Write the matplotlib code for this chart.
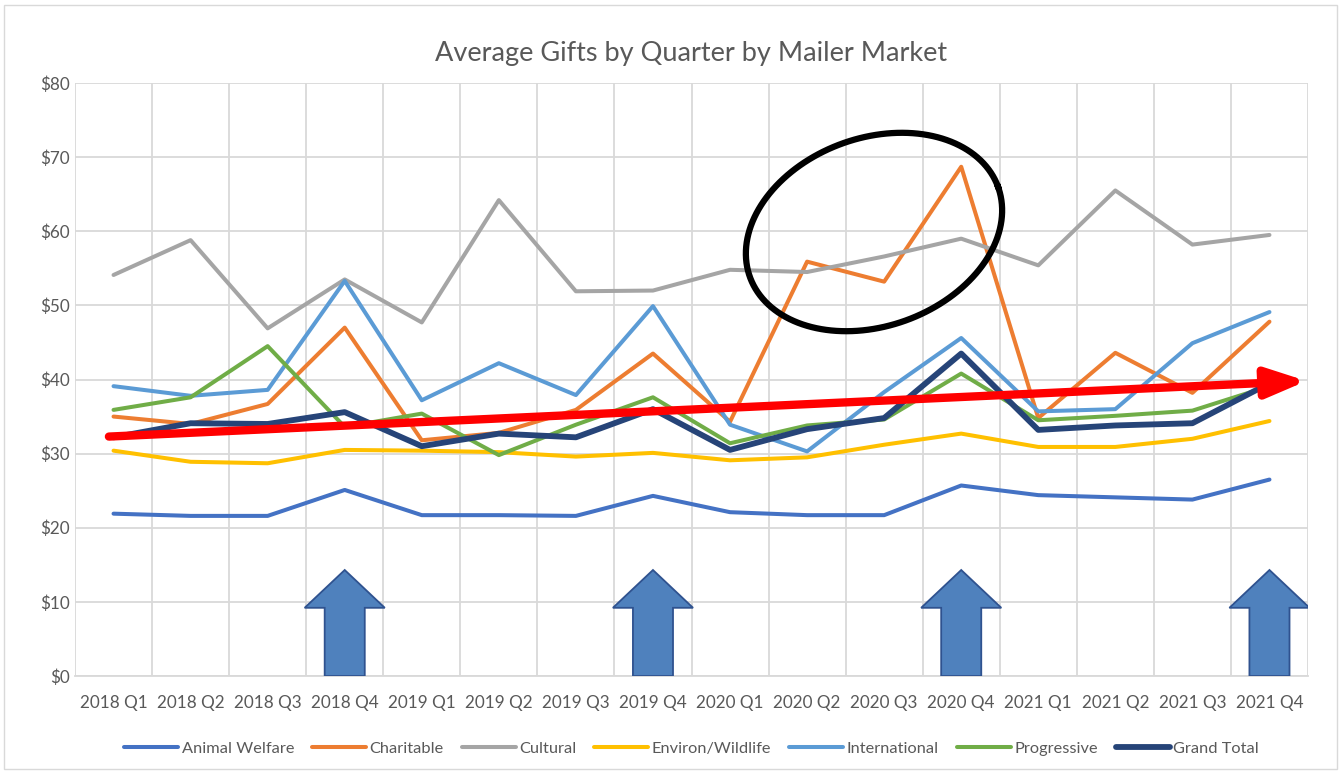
import matplotlib
matplotlib.use("Agg")
import matplotlib.pyplot as plt
from matplotlib.patches import Polygon, Rectangle
from matplotlib.ticker import FixedLocator
import numpy as np

plt.rcParams['font.family'] = ['Lato', 'DejaVu Sans']

quarters = ['2018 Q1', '2018 Q2', '2018 Q3', '2018 Q4',
            '2019 Q1', '2019 Q2', '2019 Q3', '2019 Q4',
            '2020 Q1', '2020 Q2', '2020 Q3', '2020 Q4',
            '2021 Q1', '2021 Q2', '2021 Q3', '2021 Q4']

animal_welfare = [21.9, 21.6, 21.6, 25.1, 21.7, 21.7, 21.6, 24.3,
                  22.1, 21.7, 21.7, 25.7, 24.4, 24.1, 23.8, 26.5]
charitable = [35.0, 34.0, 36.7, 47.0, 31.8, 32.8, 35.9, 43.5,
              34.3, 55.9, 53.2, 68.7, 34.8, 43.6, 38.2, 47.8]
cultural = [54.1, 58.8, 46.9, 53.5, 47.7, 64.2, 51.9, 52.0,
            54.8, 54.5, 56.6, 59.0, 55.4, 65.5, 58.2, 59.5]
environ_wildlife = [30.4, 28.9, 28.7, 30.5, 30.4, 30.2, 29.6, 30.1,
                    29.1, 29.5, 31.2, 32.7, 30.9, 30.9, 32.0, 34.4]
international = [39.1, 37.8, 38.6, 53.3, 37.2, 42.2, 37.9, 49.9,
                 33.9, 30.3, 38.3, 45.6, 35.7, 36.0, 44.9, 49.1]
progressive = [35.9, 37.6, 44.5, 33.6, 35.4, 29.8, 33.9, 37.6,
               31.4, 33.8, 34.6, 40.8, 34.5, 35.1, 35.8, 39.1]
grand_total = [32.2, 34.1, 34.0, 35.6, 31.0, 32.7, 32.2, 36.0,
               30.5, 33.3, 34.8, 43.5, 33.2, 33.8, 34.1, 39.5]

series = [('Animal Welfare', animal_welfare, '#4472C4', 2.9),
          ('Charitable', charitable, '#ED7D31', 2.9),
          ('Cultural', cultural, '#A5A5A5', 2.9),
          ('Environ/Wildlife', environ_wildlife, '#FFC000', 2.9),
          ('International', international, '#5B9BD5', 2.9),
          ('Progressive', progressive, '#70AD47', 2.9),
          ('Grand Total', grand_total, '#264478', 4.2)]

# trend arrow (start/end values in $) and highlighted quarters
trend_start, trend_end = 32.3, 39.8
highlight = ['2018 Q4', '2019 Q4', '2020 Q4', '2021 Q4']

fig = plt.figure(figsize=(13.43, 7.72), dpi=100)
ax = fig.add_axes([75 / 1343, 96 / 772, 1233 / 1343, 593 / 772])
x = np.arange(len(quarters))

text_color = '#595959'
grid_color = '#D9D9D9'

for name, vals, color, lw in series:
    ax.plot(x, vals, color=color, lw=lw, label=name, solid_capstyle='round',
            solid_joinstyle='round', zorder=3)

ax.set_xlim(-0.5, len(quarters) - 0.5)
ax.set_ylim(0, 80)
ax.set_xticks(x)
ax.set_xticklabels(quarters)
ax.xaxis.set_minor_locator(FixedLocator(np.arange(-0.5, len(quarters), 1)))
ax.set_yticks(np.arange(0, 81, 10))
ax.set_yticklabels([f'${v}' for v in range(0, 81, 10)])
ax.tick_params(axis='both', which='both', length=0, colors=text_color, labelsize=12.3)
ax.tick_params(axis='x', pad=14)
ax.tick_params(axis='y', pad=4)
ax.grid(axis='y', which='major', color=grid_color, lw=1.3, zorder=0)
ax.grid(axis='x', which='minor', color=grid_color, lw=1.3, zorder=0)
for s in ['top', 'right', 'left']:
    ax.spines[s].set_visible(False)
ax.spines['bottom'].set_color(grid_color)
ax.spines['bottom'].set_linewidth(1.3)

ax.set_title('Average Gifts by Quarter by Mailer Market', fontsize=19.5,
             color=text_color, pad=16)

# blue block arrows under the Q4 points
for q in highlight:
    i = quarters.index(q)
    hw, sw = 0.52, 0.26
    pts = [(i - sw, 0), (i + sw, 0), (i + sw, 9.2), (i + hw, 9.2),
           (i, 14.3), (i - hw, 9.2), (i - sw, 9.2)]
    ax.add_patch(Polygon(pts, closed=True, facecolor='#4F81BD',
                         edgecolor='#2F528F', lw=1.3, zorder=4))

# red trend arrow
ax.annotate('', xy=(15.48, trend_end), xytext=(-0.06, trend_start),
            arrowprops=dict(arrowstyle='-|>,head_length=2.4,head_width=0.9',
                            color='#FF0000', lw=6, shrinkA=0, shrinkB=0),
            zorder=6)

# black ellipse around the 2020 Q2-Q4 spike (drawn in pixel space)
t = np.linspace(0, 2 * np.pi, 300)
cx_px, cy_px, a_px, b_px, th = 874, 232, 132, 94, np.deg2rad(20)
ex = cx_px + a_px * np.cos(t) * np.cos(th) - b_px * np.sin(t) * np.sin(th)
ey = cy_px - (a_px * np.cos(t) * np.sin(th) + b_px * np.sin(t) * np.cos(th))
ax.plot((ex - 75) / 1233 * 16 - 0.5, (676 - ey) / 593 * 80, color='black',
        lw=4.5, zorder=7, clip_on=False)

leg = ax.legend(loc='upper center', bbox_to_anchor=(0.5, -0.085), ncol=7,
                frameon=False, fontsize=11.8, handlelength=3.3,
                handletextpad=0.2, columnspacing=1.1, labelcolor=text_color)

fig.add_artist(Rectangle((4 / 1343, 3 / 772), 1333 / 1343, 764 / 772,
                         transform=fig.transFigure, fill=False,
                         edgecolor='#D9D9D9', lw=1))

fig.savefig('out.png', dpi=100)
